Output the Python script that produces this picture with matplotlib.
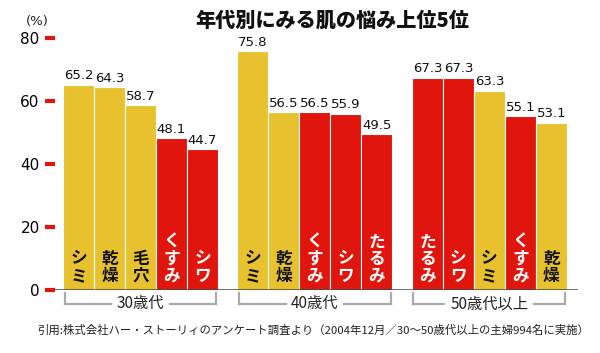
import matplotlib
matplotlib.use("Agg")
import matplotlib.pyplot as plt

plt.rcParams['font.family'] = ['Noto Sans CJK JP', 'DejaVu Sans']

groups = ["30歳代", "40歳代", "50歳代以上"]
labels = [
    ["シミ", "乾燥", "毛穴", "くすみ", "シワ"],
    ["シミ", "乾燥", "くすみ", "シワ", "たるみ"],
    ["たるみ", "シワ", "シミ", "くすみ", "乾燥"],
]
values = [
    [65.2, 64.3, 58.7, 48.1, 44.7],
    [75.8, 56.5, 56.5, 55.9, 49.5],
    [67.3, 67.3, 63.3, 55.1, 53.1],
]
is_red = [
    [False, False, False, True, True],
    [False, False, True, True, True],
    [True, True, False, True, False],
]
yticks = [0, 20, 40, 60, 80]
title = "年代別にみる肌の悩み上位5位"
note = "引用:株式会社ハー・ストーリィのアンケート調査より（2004年12月／30～50歳代以上の主婦994名に実施）"

YELLOW = "#E8C22E"
RED = "#E0160E"

W, H = 600, 353
fig = plt.figure(figsize=(6, 3.53), dpi=100)
ax = fig.add_axes([55 / W, (H - 290) / H, (578 - 55) / W, (290 - 38) / H])
ax.set_ylim(0, 80)
step = 5.63
ax.set_xlim(-0.76, 2 * step + 4.5 + 0.36)

for g in range(3):
    for i in range(5):
        x = g * step + i
        v = values[g][i]
        red = is_red[g][i]
        ax.bar(x, v, width=1.0, color=RED if red else YELLOW,
               edgecolor="white", linewidth=0.8, zorder=2)
        ax.text(x, v + 0.8, f"{v:.1f}", ha="center", va="bottom",
                fontsize=9.5, color="#111111", family="DejaVu Sans")
        ax.text(x, 1.6, "\n".join(labels[g][i]), ha="center", va="bottom",
                fontsize=12, linespacing=0.95, fontweight="bold",
                color="white" if red else "#111111")

for s in ["top", "right", "left", "bottom"]:
    ax.spines[s].set_visible(False)
ax.axhline(0, color="#444444", linewidth=1.8, zorder=3)

ax.set_yticks(yticks)
ax.set_yticklabels([str(t) for t in yticks], fontsize=11, family="DejaVu Sans")
ax.tick_params(axis="y", length=7, width=3, color="#E0160E", pad=4, direction="out")
ax.set_xticks([])

fig.text(37 / W, (H - 22) / H, "(%)", ha="center", va="center", fontsize=9.5,
         family="DejaVu Sans", color="#222222")

for g in range(3):
    x0 = g * step - 0.5 + 0.05
    x1 = g * step + 4.5 - 0.05
    cx = g * step + 2
    ybr = -4.4
    ytop = -1.0
    ax.plot([x0, x0], [ytop, ybr], color="#AAAAAA", lw=1.6, clip_on=False)
    ax.plot([x1, x1], [ytop, ybr], color="#AAAAAA", lw=1.6, clip_on=False)
    half = 0.95 if g < 2 else 1.45
    ax.plot([x0, cx - half], [ybr, ybr], color="#AAAAAA", lw=1.6, clip_on=False)
    ax.plot([cx + half, x1], [ybr, ybr], color="#AAAAAA", lw=1.6, clip_on=False)
    ax.text(cx, ybr, groups[g], ha="center", va="center", fontsize=11,
            color="#222222", clip_on=False)

fig.text(332 / W, (H - 21) / H, title, ha="center", va="center",
         fontsize=14.5, fontweight="black", color="#111111")
fig.text(37 / W, (H - 330) / H, note, ha="left", va="center",
         fontsize=8.2, color="#222222")

fig.savefig("out.png", dpi=100)
